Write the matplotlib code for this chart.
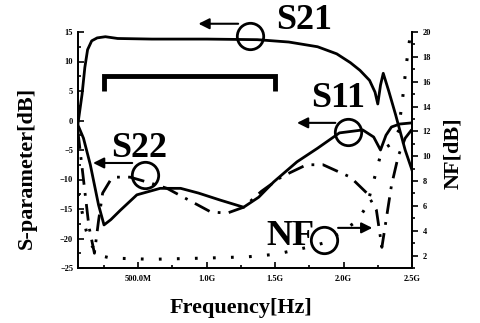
import numpy as np
import matplotlib
matplotlib.use("Agg")
import matplotlib.pyplot as plt
from matplotlib.ticker import MultipleLocator, FixedLocator

plt.rcParams['font.family'] = ['Liberation Serif', 'DejaVu Serif']
plt.rcParams['font.weight'] = 'bold'

# frequency in GHz
s21_f = [0.06, 0.09, 0.11, 0.13, 0.16, 0.2, 0.26, 0.35, 0.6, 1.0, 1.37, 1.6, 1.81,
         1.95, 2.05, 2.12, 2.19, 2.23, 2.25, 2.27, 2.29, 2.33, 2.38, 2.45, 2.5]
s21_db = [-0.5, 4.5, 9.0, 12.0, 13.5, 14.0, 14.2, 13.9, 13.8, 13.8, 13.7, 13.3, 12.5,
          11.3, 9.8, 8.5, 6.8, 4.8, 2.8, 6.0, 8.0, 5.0, 1.0, -5.0, -8.4]

s11_f = [0.06, 0.1, 0.15, 0.21, 0.25, 0.3, 0.37, 0.49, 0.66, 0.81, 0.94, 1.1, 1.27,
         1.38, 1.49, 1.66, 1.81, 1.97, 2.14, 2.22, 2.27, 2.31, 2.35, 2.41, 2.5]
s11_db = [-0.8, -3.0, -7.5, -14.3, -17.7, -16.8, -15.2, -12.6, -11.5, -11.5, -12.3,
          -13.5, -14.7, -13.0, -10.4, -7.0, -4.7, -2.1, -1.6, -2.8, -5.0, -2.5, -1.1,
          -0.6, -0.4]

s22_f = [0.06, 0.1, 0.14, 0.18, 0.21, 0.24, 0.3, 0.33, 0.44, 0.59, 0.71, 0.87, 1.03,
         1.15, 1.27, 1.4, 1.55, 1.73, 1.85, 2.05, 2.17, 2.24, 2.28, 2.31, 2.35, 2.4,
         2.45, 2.5]
s22_db = [-2.0, -10.0, -18.0, -22.5, -17.0, -12.3, -10.0, -9.6, -9.6, -10.6, -11.5,
          -13.5, -15.5, -15.7, -14.7, -12.0, -9.5, -7.5, -7.5, -9.6, -12.3, -15.2,
          -21.5, -17.0, -11.0, -6.0, -3.0, -1.5]

nf_f = [0.06, 0.09, 0.12, 0.16, 0.22, 0.3, 0.6, 1.0, 1.3, 1.5, 1.63, 1.75, 1.85,
        1.97, 2.1, 2.17, 2.22, 2.28, 2.35, 2.4, 2.43, 2.46, 2.49]
nf_db = [7.0, 5.5, 4.0, 2.8, 2.0, 1.8, 1.7, 1.8, 1.9, 2.1, 2.4, 2.7, 3.0,
         3.8, 4.8, 6.0, 8.0, 10.5, 11.0, 12.0, 14.5, 17.5, 20.0]

band_f = [0.25, 1.5]
band_db = [5.0, 7.5]

xtick_pos = [0.5, 1.0, 1.5, 2.0, 2.5]
xtick_lab = ['500.0M', '1.0G', '1.5G', '2.0G', '2.5G']

fig = plt.figure(figsize=(4.81, 3.23), dpi=100)
ax = fig.add_axes([78 / 481, 1 - 268 / 323, 334 / 481, 236 / 323])
ax2 = ax.twinx()

ax.plot(s21_f, s21_db, color='black', lw=2.0)
ax.plot(s11_f, s11_db, color='black', lw=2.0)
ax.plot(s22_f, s22_db, color='black', lw=2.0, dashes=(6, 3, 1, 3))
ax2.plot(nf_f, nf_db, color='black', lw=2.2, dashes=(0.9, 5))

# pass band bracket
ax.plot([band_f[0], band_f[0], band_f[1], band_f[1]],
        [band_db[0], band_db[1], band_db[1], band_db[0]],
        color='black', lw=3.5, solid_joinstyle='miter', solid_capstyle='butt')

ax.set_xlim(0.06, 2.5)
ax.set_ylim(-25, 15)
ax2.set_ylim(1, 20)

ax.xaxis.set_major_locator(FixedLocator(xtick_pos))
ax.set_xticklabels(xtick_lab)
ax.xaxis.set_minor_locator(MultipleLocator(0.25))
ax.yaxis.set_major_locator(MultipleLocator(5))
ax.yaxis.set_minor_locator(MultipleLocator(2.5))
ax2.yaxis.set_major_locator(MultipleLocator(2))
ax2.yaxis.set_minor_locator(MultipleLocator(1))

ax.tick_params(axis='both', which='both', direction='in', labelsize=6, width=1.2)
ax.tick_params(which='major', length=4)
ax.tick_params(which='minor', length=2)
ax2.tick_params(axis='y', which='both', direction='out', labelsize=6, width=1.2)
ax2.tick_params(which='major', length=4)
ax2.tick_params(which='minor', length=2)
ax.tick_params(axis='x', pad=5)

for a in (ax, ax2):
    a.spines['top'].set_visible(False)
    for s in ('left', 'right', 'bottom'):
        a.spines[s].set_linewidth(1.3)

fig.text(0.056, 0.48, 'S-parameter[dB]', rotation=90, ha='center', va='center',
         fontsize=16, fontweight='bold')
fig.text(0.5, 0.045, 'Frequency[Hz]', ha='center', va='center',
         fontsize=16, fontweight='bold')
fig.text(0.942, 0.525, 'NF[dB]', rotation=90, ha='center', va='center',
         fontsize=16, fontweight='bold')

# curve labels with circle and arrow
labels = [
    ('S21', (1.71, 17.0), (1.32, 14.3), (1.23, 16.4), (0.94, 16.4)),
    ('S11', (1.96, 3.8), (2.03, -1.9), (1.94, -0.4), (1.66, -0.4)),
    ('S22', (0.507, -4.7), (0.55, -9.2), (0.456, -7.2), (0.17, -7.2)),
    ('NF', (1.61, -19.7), (1.86, -20.3), (1.96, -18.2), (2.21, -18.2)),
]
for name, tpos, cpos, a0, a1 in labels:
    ax.text(tpos[0], tpos[1], name, ha='center', va='center', fontsize=26,
            fontweight='bold', clip_on=False, zorder=5)
    ax.plot([cpos[0]], [cpos[1]], marker='o', ms=19, mfc='none', mec='black',
            mew=2.0, clip_on=False, zorder=6)
    ax.annotate('', xy=a1, xytext=a0, annotation_clip=False,
                arrowprops=dict(arrowstyle='-|>', lw=1.5, color='black',
                                mutation_scale=16, shrinkA=0, shrinkB=0))

fig.savefig('out.png', dpi=100)
